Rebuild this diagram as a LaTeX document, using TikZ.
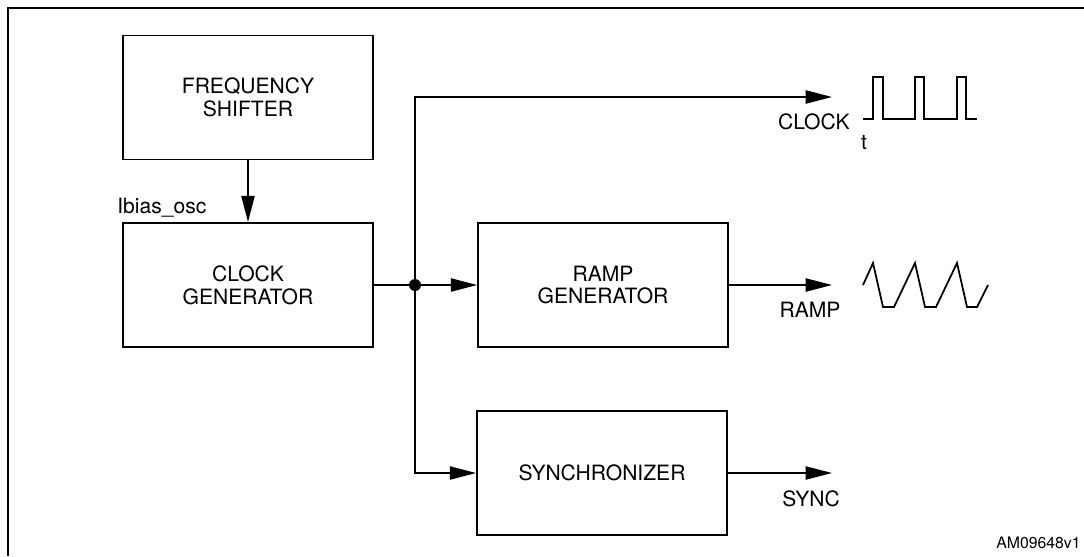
\documentclass[tikz,border=0pt]{standalone}
\usepackage{fontspec}
\setmainfont{TeX Gyre Heros}
\usetikzlibrary{arrows.meta}
\tikzset{l/.style={font=\fontsize{12}{13}\selectfont}}
\tikzset{m/.style={font=\fontsize{9}{9}\selectfont}}
\tikzset{blk/.style={draw,line width=1pt,minimum width=5cm,minimum height=2.48cm,align=center,l}}
\tikzset{sig/.style={line width=1pt,-{Triangle[length=15pt,width=7.5pt]}}}

\begin{document}
\begin{tikzpicture}[x=0.02cm,y=-0.02cm]
        \useasboundingbox (0,0) rectangle (1084,556);
        \draw[line width=1.5pt] (8,556) -- (8,8) -- (1084,8);
        \node[blk] (fs) at (248,97.5) {FREQUENCY\\SHIFTER};
        \node[blk] (cg) at (248,285) {CLOCK\\GENERATOR};
        \node[blk] (rg) at (603,285) {RAMP\\GENERATOR};
        \node[blk] (sy) at (602,473) {SYNCHRONIZER};
        \coordinate (tap) at (415,285);
        \coordinate (clk) at (832,97);
        \coordinate (rmp) at (832,285);
        \coordinate (syn) at (832,473);
        \draw[sig] (fs) -- (cg);
        \draw[sig] (cg) -- (rg);
        \draw[sig] (tap) |- (clk);
        \draw[sig] (tap) |- (sy);
        \draw[sig] (rg) -- (rmp);
        \draw[sig] (sy) -- (syn);
        \fill (tap) circle (0.12cm);
        \node[l,anchor=west,inner sep=0pt] (ib) at (117,208) {Ibias\_osc};
        \node[l,anchor=east,inner sep=0pt] (clkl) at (850,122) {CLOCK};
        \node[l] (tl) at (864,143) {t};
        \node[l] (rmpl) at (810,310) {RAMP};
        \node[l] (synl) at (811,499) {SYNC};
        \node[m,anchor=east,inner sep=0pt] (tag) at (1081,543) {AM09648v1};
        % waveforms
        \draw[line width=1pt] (863,119) -- (873,119) -- (873,77) -- (883,77) -- (883,119)
          -- (915,119) -- (915,77) -- (924,77) -- (924,119)
          -- (957,119) -- (957,77) -- (966,77) -- (966,119) -- (977,119);
        \draw[line width=1pt] (863,285) -- (873,263) -- (883,307) -- (894,307)
          -- (915,263) -- (925,307) -- (936,307)
          -- (957,263) -- (967,307) -- (977,307) -- (988,285);
      \end{tikzpicture}
\end{document}
